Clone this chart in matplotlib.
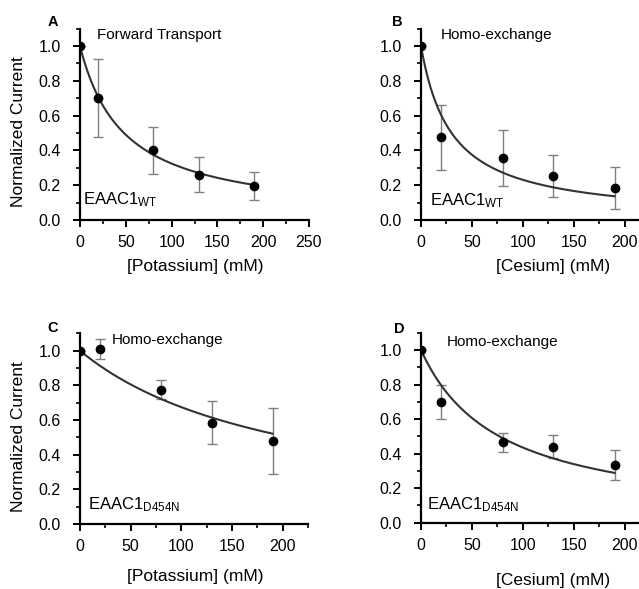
import numpy as np
import matplotlib
matplotlib.use("Agg")
import matplotlib.pyplot as plt
from matplotlib.ticker import MultipleLocator

plt.rcParams['font.family'] = ['Liberation Sans', 'DejaVu Sans']
plt.rcParams['mathtext.default'] = 'regular'

# concentrations (mM)
conc = [0, 20, 80, 130, 190]

# normalized currents and error bars
a_y = [1.0, 0.70, 0.40, 0.26, 0.195]
a_err = [0.0, 0.225, 0.135, 0.10, 0.082]
b_y = [1.0, 0.475, 0.355, 0.255, 0.185]
b_err = [0.0, 0.185, 0.16, 0.12, 0.12]
c_y = [1.0, 1.01, 0.775, 0.585, 0.48]
c_err = [0.0, 0.06, 0.055, 0.125, 0.19]
d_y = [1.0, 0.70, 0.465, 0.44, 0.335]
d_err = [0.0, 0.10, 0.055, 0.065, 0.087]

# apparent K of the hyperbolic fit I = K / (K + [X])
a_k = 48
b_k = 30
c_k = 207
d_k = 77

W, H = 639, 589

# panel layout in pixels: axes box (left, top, right, bottom) and text anchors
panels = [
    dict(letter="A", y=a_y, err=a_err, k=a_k, xlabel="[Potassium] (mM)",
         title="Forward Transport", sub="WT", xmax=250,
         xticks=[0, 50, 100, 150, 200, 250], box=(80, 28.6, 309, 220),
         letter_xy=(53, 22), title_xy=(97, 35), sub_xy=(83, 200),
         xlabel_xy=(195, 267), ylabel_xy=(19, 132)),
    dict(letter="B", y=b_y, err=b_err, k=b_k, xlabel="[Cesium] (mM)",
         title="Homo-exchange", sub="WT", xmax=213,
         xticks=[0, 50, 100, 150, 200], box=(421, 28.6, 638, 220),
         letter_xy=(397, 22), title_xy=(441, 35), sub_xy=(430, 201),
         xlabel_xy=(553, 267), ylabel_xy=None),
    dict(letter="C", y=c_y, err=c_err, k=c_k, xlabel="[Potassium] (mM)",
         title="Homo-exchange", sub="D454N", xmax=225,
         xticks=[0, 50, 100, 150, 200], box=(80, 333.4, 308, 524),
         letter_xy=(53, 328), title_xy=(112, 340), sub_xy=(88, 505),
         xlabel_xy=(195, 577), ylabel_xy=(19, 437)),
    dict(letter="D", y=d_y, err=d_err, k=d_k, xlabel="[Cesium] (mM)",
         title="Homo-exchange", sub="D454N", xmax=213,
         xticks=[0, 50, 100, 150, 200], box=(421, 332.7, 638, 522.7),
         letter_xy=(399, 329), title_xy=(447, 342), sub_xy=(427, 505),
         xlabel_xy=(553, 580), ylabel_xy=None),
]

fig = plt.figure(figsize=(W / 100, H / 100), dpi=100)


def fxy(p):
    return p[0] / W, 1 - p[1] / H


for p in panels:
    l, t, r, b = p["box"]
    ax = fig.add_axes([l / W, 1 - b / H, (r - l) / W, (b - t) / H])
    xf = np.linspace(0, 190, 300)
    ax.plot(xf, p["k"] / (p["k"] + xf), color="#333333", lw=1.5, zorder=2)
    ax.errorbar(conc, p["y"], yerr=p["err"], fmt="none", ecolor="#808080",
                elinewidth=1.0, capsize=3.3, capthick=1.0, zorder=1)
    ax.plot(conc, p["y"], "o", color="black", ms=6, zorder=3)

    ax.set_xlim(0, p["xmax"])
    ax.set_ylim(0, 1.1)
    ax.set_xticks(p["xticks"])
    ax.set_yticks([0, 0.2, 0.4, 0.6, 0.8, 1.0])
    ax.set_yticklabels(["0.0", "0.2", "0.4", "0.6", "0.8", "1.0"])
    ax.xaxis.set_minor_locator(MultipleLocator(25))
    ax.yaxis.set_minor_locator(MultipleLocator(0.1))
    for s in ("top", "right"):
        ax.spines[s].set_visible(False)
    for s in ("left", "bottom"):
        ax.spines[s].set_linewidth(1.6)
        ax.spines[s].set_clip_on(False)
    ax.tick_params(which="major", direction="out", length=5, width=1.4,
                   labelsize=11.5, colors="black")
    ax.tick_params(axis="y", which="major", pad=9)
    ax.tick_params(axis="x", which="major", pad=6)
    ax.tick_params(which="minor", direction="out", length=3, width=1.2)
    ax.patch.set_alpha(0)

    x, y = fxy(p["letter_xy"])
    fig.text(x, y, p["letter"], fontsize=10.5, fontweight="bold",
             ha="center", va="center")
    x, y = fxy(p["title_xy"])
    fig.text(x, y, p["title"], fontsize=11, ha="left", va="center")
    x, y = fxy(p["sub_xy"])
    fig.text(x, y, "EAAC1$_{%s}$" % p["sub"], fontsize=12,
             ha="left", va="center")
    x, y = fxy(p["xlabel_xy"])
    fig.text(x, y, p["xlabel"], fontsize=12.5, ha="center", va="center")
    if p["ylabel_xy"] is not None:
        x, y = fxy(p["ylabel_xy"])
        fig.text(x, y, "Normalized Current", fontsize=12.5, rotation=90,
                 ha="center", va="center")

fig.savefig("out.png", dpi=100)
